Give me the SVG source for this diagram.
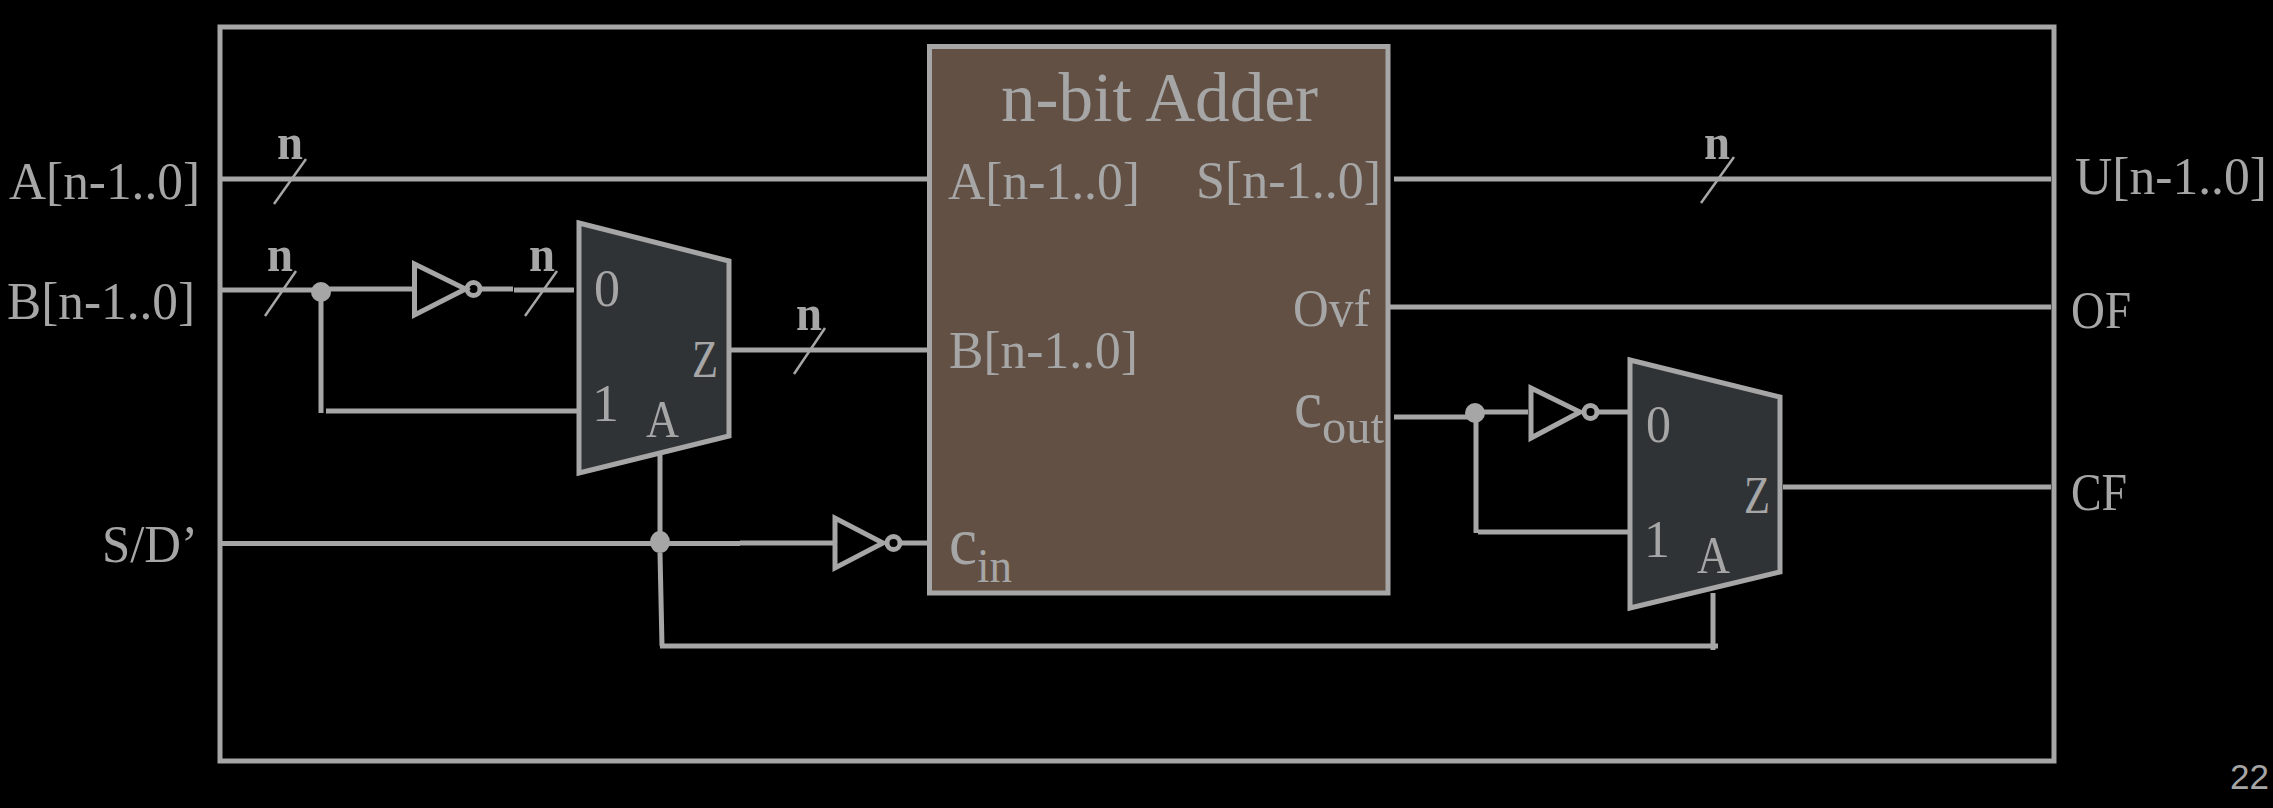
<svg xmlns="http://www.w3.org/2000/svg" width="2273" height="808" viewBox="0 0 2273 808">
<style>
text{font-family:"Liberation Serif","Times New Roman",serif;fill:#a6a6a6;font-size:53px}
.n{font-size:50px;font-weight:bold}
.c{font-size:68px}
.sub{font-size:48px}
.big{font-size:70px}
.pg{font-family:"Liberation Sans",Arial,sans-serif;font-size:35px}
.w{fill:none;stroke:#a6a6a6;stroke-width:5}
.s{fill:none;stroke:#a6a6a6;stroke-width:2.5}
.inv{fill:none;stroke:#a6a6a6;stroke-width:5;stroke-linejoin:miter}
.mux{fill:#2f3336;stroke:#a6a6a6;stroke-width:5}
.dot{fill:#a6a6a6}
</style>
<rect width="2273" height="808" fill="#000"/>
<g id="frame"><rect x="220" y="27" width="1834" height="734" class="w"/></g>
<g id="connectors">
<path class="w" d="M220 179H928M1394 179H2051M222 290H313M321 289H412M481 289H513M514 290H574M321 292V413M326 411H577M730 350H928M220 543.5H740M740 543H835M902 543H933M660 455V543M660 553L662 646M660 646H1718M1713 593V650M1390 307H2051M1394 417H1470M1480 412H1528M1599 412H1628M1476 413V533M1478 532H1635M1783 487H2051"/>
<path class="s" d="M274 204L306 159M265 316L296 271M525 316L557 271M794 374L825 328M1701 203L1734 157"/>
<ellipse class="dot" cx="321" cy="292" rx="10" ry="10"/>
<ellipse class="dot" cx="660" cy="542" rx="10" ry="11"/>
<ellipse class="dot" cx="1475" cy="413" rx="10" ry="10"/>
<text class="n" x="277" y="159" textLength="26" lengthAdjust="spacingAndGlyphs">n</text>
<text class="n" x="267" y="271" textLength="26" lengthAdjust="spacingAndGlyphs">n</text>
<text class="n" x="529" y="271" textLength="26" lengthAdjust="spacingAndGlyphs">n</text>
<text class="n" x="796" y="330" textLength="26" lengthAdjust="spacingAndGlyphs">n</text>
<text class="n" x="1704" y="159" textLength="26" lengthAdjust="spacingAndGlyphs">n</text>
</g>
<g id="adder">
<rect x="929.5" y="46.5" width="458.5" height="546.5" fill="#625044" stroke="#a6a6a6" stroke-width="5"/>
<text class="big" x="1001" y="121" textLength="317" lengthAdjust="spacingAndGlyphs">n-bit Adder</text>
<text x="948" y="199" textLength="192" lengthAdjust="spacingAndGlyphs">A[n-1..0]</text>
<text x="1196" y="198" textLength="185" lengthAdjust="spacingAndGlyphs">S[n-1..0]</text>
<text x="949" y="368" textLength="189" lengthAdjust="spacingAndGlyphs">B[n-1..0]</text>
<text x="1293" y="325.5" textLength="77" lengthAdjust="spacingAndGlyphs">Ovf</text>
<text class="c" x="1294" y="427" textLength="28" lengthAdjust="spacingAndGlyphs">c</text>
<text class="sub" x="1322" y="443" textLength="62" lengthAdjust="spacingAndGlyphs">out</text>
<text class="c" x="949" y="564" textLength="28" lengthAdjust="spacingAndGlyphs">c</text>
<text class="sub" x="977" y="582" textLength="35" lengthAdjust="spacingAndGlyphs">in</text>
</g>
<g id="mux1">
<polygon class="mux" points="579,223 729,261 729,436 579,473"/>
<text x="594" y="306" textLength="26" lengthAdjust="spacingAndGlyphs">0</text>
<text x="592" y="421" textLength="27" lengthAdjust="spacingAndGlyphs">1</text>
<text x="692" y="377" textLength="26" lengthAdjust="spacingAndGlyphs">Z</text>
<text x="646" y="437" textLength="33" lengthAdjust="spacingAndGlyphs">A</text>
</g>
<g id="mux2">
<polygon class="mux" points="1630,360 1780,397 1780,572 1630,608"/>
<text x="1646" y="442" textLength="25" lengthAdjust="spacingAndGlyphs">0</text>
<text x="1644" y="557" textLength="26" lengthAdjust="spacingAndGlyphs">1</text>
<text x="1744" y="513" textLength="26" lengthAdjust="spacingAndGlyphs">Z</text>
<text x="1697" y="573" textLength="33" lengthAdjust="spacingAndGlyphs">A</text>
</g>
<g id="inv1"><polygon class="inv" points="414.5,264 414.5,315 465.5,289"/><circle class="inv" cx="473.5" cy="289" r="6.5"/></g>
<g id="inv2"><polygon class="inv" points="835,518 835,568 883,543"/><circle class="inv" cx="893.5" cy="543" r="6.5"/></g>
<g id="inv3"><polygon class="inv" points="1531,388 1531,438 1580,412"/><circle class="inv" cx="1590.5" cy="412" r="6.5"/></g>
<g id="labels">
<text x="9" y="199" textLength="191" lengthAdjust="spacingAndGlyphs">A[n-1..0]</text>
<text x="7" y="319" textLength="188" lengthAdjust="spacingAndGlyphs">B[n-1..0]</text>
<text x="102" y="562" textLength="96" lengthAdjust="spacingAndGlyphs">S/D’</text>
<text x="2075" y="194" textLength="192" lengthAdjust="spacingAndGlyphs">U[n-1..0]</text>
<text x="2071" y="328" textLength="60" lengthAdjust="spacingAndGlyphs">OF</text>
<text x="2071" y="510" textLength="56" lengthAdjust="spacingAndGlyphs">CF</text>
<text class="pg" x="2230" y="789" textLength="39" lengthAdjust="spacingAndGlyphs">22</text>
</g>
</svg>
